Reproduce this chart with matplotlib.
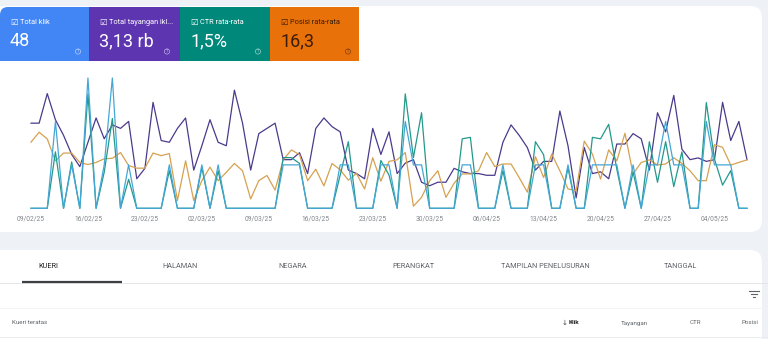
import pandas as pd
import matplotlib
matplotlib.use('Agg')
import matplotlib.pyplot as plt
import matplotlib.dates as mdates
from matplotlib.patches import Rectangle, FancyBboxPatch, Circle

plt.rcParams['font.family'] = ['Roboto', 'DejaVu Sans']

# daily data, 09/02/25 .. 08/05/25
dates = pd.date_range('2025-02-09', periods=89, freq='D')

clicks = [0, 0, 0, 2, 0, 1, 0, 3, 0, 1,
          3, 0, 1, 0, 0, 0, 0, 1, 0, 0,
          0, 1, 0, 1, 0, 0, 0, 0, 0, 0,
          0, 1, 1, 1, 0, 0, 0, 0, 1, 1,
          0, 0, 0, 1, 1, 0, 2, 1, 1, 0,
          0, 0, 0, 1, 1, 0, 0, 0, 1, 0,
          0, 0, 1, 1, 0, 0, 1, 0, 0, 1,
          1, 1, 1, 0, 1, 0, 1, 1, 2, 1,
          1, 0, 0, 2, 1, 1, 1, 0, 0]

impressions = [49, 49, 66, 51, 42, 31, 24, 38, 52, 40,
               48, 46, 50, 17, 23, 61, 39, 38, 46, 52,
               22, 36, 51, 38, 36, 68, 49, 22, 43, 46,
               49, 28, 28, 32, 20, 46, 52, 47, 44, 22,
               20, 17, 46, 31, 44, 20, 26, 28, 15, 13,
               15, 15, 23, 21, 20, 20, 19, 19, 38, 48,
               42, 35, 22, 27, 27, 56, 36, 6, 35, 20,
               21, 17, 37, 37, 43, 40, 22, 55, 44, 65,
               34, 28, 29, 27, 28, 61, 39, 50, 28]

ctr = [0, 0, 0, 3.9, 0, 3.2, 0, 7.9, 0, 2.5,
       6.2, 0, 2.0, 0, 0, 0, 0, 2.6, 0, 0,
       0, 2.8, 0, 2.6, 0, 0, 0, 0, 0, 0,
       0, 3.5, 3.5, 3.1, 0, 0, 0, 0, 2.3, 4.6,
       0, 0, 0, 3.3, 2.3, 0, 7.9, 3.5, 6.6, 0,
       0, 0, 0, 4.8, 4.9, 0, 0, 0, 2.6, 0,
       0, 0, 4.6, 3.7, 0, 0, 2.8, 0, 0, 4.9,
       4.8, 5.8, 2.7, 0, 2.5, 0, 4.6, 1.8, 4.6, 1.5,
       3.9, 0, 0, 7.3, 3.4, 1.6, 2.6, 0, 0]

position = [12.3, 10.4, 11.7, 15.9, 14.4, 14.4, 16.2, 16.6, 16.2, 15.5,
            15.4, 14.3, 16.8, 17.3, 17.3, 14.4, 14.9, 14.5, 23.5, 15.9,
            23.5, 19.7, 17.1, 19.7, 18.1, 16.4, 17.8, 23.2, 19.7, 18.7,
            21.5, 15.7, 13.8, 14.7, 19.7, 17.5, 20.7, 16.4, 17.6, 19.6,
            18.3, 21.3, 15.3, 19.8, 16.0, 15.7, 14.3, 24.6, 22.9, 19.7,
            17.8, 22.9, 20.2, 18.4, 18.4, 17.8, 14.3, 17.0, 16.5, 16.5,
            19.1, 21.9, 15.1, 19.1, 14.6, 17.8, 21.3, 21.6, 12.1, 14.6,
            19.4, 13.8, 15.9, 10.6, 18.4, 16.2, 15.7, 16.7, 16.5, 15.3,
            16.4, 17.8, 19.7, 19.7, 12.8, 13.3, 16.7, 16.2, 15.7]

card_labels = ['Total klik', 'Total tayangan ikl...', 'CTR rata-rata', 'Posisi rata-rata']
card_values = ['48', '3,13 rb', '1,5%', '16,3']
card_colors = ['#4285f4', '#5e35b1', '#00897b', '#e8710a']
tabs = ['KUERI', 'HALAMAN', 'NEGARA', 'PERANGKAT', 'TAMPILAN PENELUSURAN', 'TANGGAL']
columns = ['Tayangan', 'CTR', 'Posisi']

fig = plt.figure(figsize=(7.68, 3.39), dpi=100, facecolor='#eef1f5')

# background layer in pixel coords
bg = fig.add_axes([0, 0, 1, 1])
bg.set_xlim(0, 768)
bg.set_ylim(339, 0)
bg.axis('off')

bg.add_patch(FancyBboxPatch((-20, 6), 782, 226, boxstyle='round,pad=0,rounding_size=12',
                            fc='white', ec='none'))
bg.add_patch(FancyBboxPatch((-20, 250), 782, 110, boxstyle='round,pad=0,rounding_size=12',
                            fc='white', ec='none'))

# metric cards
edges = [0, 89, 180, 270, 359]
for i in range(4):
    x0, x1 = edges[i], edges[i + 1]
    if i == 0:
        bg.add_patch(FancyBboxPatch((x0, 7), x1 - x0, 54, boxstyle='round,pad=0,rounding_size=8',
                                    fc=card_colors[i], ec='none'))
        bg.add_patch(Rectangle((x0 + 20, 7), x1 - x0 - 20, 54, fc=card_colors[i], ec='none'))
        bg.add_patch(Rectangle((x0, 30), x1 - x0, 31, fc=card_colors[i], ec='none'))
    else:
        bg.add_patch(Rectangle((x0, 7), x1 - x0, 54, fc=card_colors[i], ec='none'))
    tc = '#3b1d05' if i == 3 else 'white'
    bg.text(x0 + 10, 22, '\u2611', fontsize=6, color=tc, va='center', ha='left',
            family=['DejaVu Sans'])
    bg.text(x0 + 20, 22, card_labels[i], fontsize=5.3, color=tc, va='center', ha='left')
    bg.text(x0 + 10, 41, card_values[i], fontsize=13, color=tc, va='center', ha='left')
    bg.add_patch(Circle((x0 + 78, 51.5), 2.6, fc='none', ec=tc, lw=0.5, alpha=0.6))
    bg.text(x0 + 78, 51.7, '?', fontsize=3.3, color=tc, va='center', ha='center', alpha=0.6)

# tabs
tab_x = [48, 180, 293, 413, 545, 680]
for t, x in zip(tabs, tab_x):
    bg.text(x, 266, t, fontsize=5.3, ha='center', va='center',
            color='#202124' if t == 'KUERI' else '#5f6368')
bg.plot([0, 768], [283, 283], color='#e3e3e3', lw=0.6)
bg.plot([22, 122], [282, 282], color='#3c4043', lw=1.6, solid_capstyle='butt')

# filter icon
bg.plot([749, 759], [291, 291], color='#5f6368', lw=0.8)
bg.plot([751, 757], [294, 294], color='#5f6368', lw=0.8)
bg.plot([753, 755], [297, 297], color='#5f6368', lw=0.8)
bg.plot([0, 768], [308, 308], color='#f1f3f4', lw=0.6)

# table header
bg.text(12, 323, 'Kueri teratas', fontsize=4.5, color='#5f6368', va='center')
bg.text(562, 323, '\u2193', fontsize=5, color='#3c4043', va='center', family=['DejaVu Sans'])
bg.text(569, 323, 'Klik', fontsize=4.6, color='#202124', va='center', fontweight='bold')
for c, x in zip(columns, [634, 695, 750]):
    bg.text(x, 323, c, fontsize=4.5, color='#5f6368', va='center', ha='center')
bg.plot([0, 768], [337, 337], color='#e8eaed', lw=0.6)

# line chart, each metric on its own scale
ax = fig.add_axes([31 / 768, (339 - 208.3) / 339, 716 / 768, 130.3 / 339])
ax_i = ax.twinx()
ax_p = ax.twinx()
ax_c = ax.twinx()
for a in (ax, ax_i, ax_p, ax_c):
    a.set_facecolor('none')
    for s in a.spines.values():
        s.set_visible(False)
    a.set_yticks([])
    a.set_xlim(dates[0], dates[-1])

ax_i.plot(dates, impressions, color='#4b3a8c', lw=0.9, clip_on=False)
ax_i.set_ylim(0, 75)
ax_p.plot(dates, position, color='#d6a150', lw=0.9, clip_on=False)
ax_p.set_ylim(25, 0)
ax_c.plot(dates, ctr, color='#22998a', lw=0.9, clip_on=False)
ax_c.set_ylim(0, 9)
ax.plot(dates, clicks, color='#45a6d6', lw=0.9, clip_on=False, zorder=5)
ax.set_ylim(0, 3)
ax.set_zorder(ax_c.get_zorder() + 1)

ax.set_xticks(dates[::7])
ax.xaxis.set_major_formatter(mdates.DateFormatter('%d/%m/%y'))
ax.tick_params(axis='x', length=0, labelsize=4.8, labelcolor='#80868b', pad=5)
for a in (ax_i, ax_p, ax_c):
    a.tick_params(axis='x', length=0, labelbottom=False)

fig.savefig('out.png', dpi=100, facecolor=fig.get_facecolor())
